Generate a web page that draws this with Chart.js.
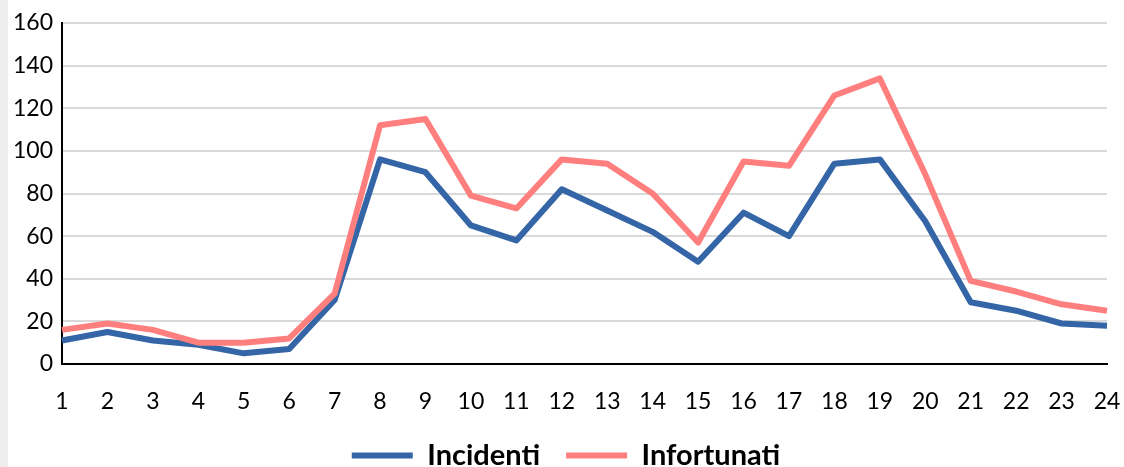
<!DOCTYPE html>
<html>
<head>
<meta charset="utf-8">
<script src="https://cdn.jsdelivr.net/npm/chart.js@4"></script>
<style>
  html, body { margin: 0; padding: 0; background: #eeeeee; }
  .container-grafico { position: absolute; left: 8px; top: 0; width: 1116px; height: 467px; background: #fff; }
</style>
</head>
<body>
<div class="container-grafico">
  <canvas id="grafico" width="1116" height="467"></canvas>
</div>
<script>
const ore = ['1','2','3','4','5','6','7','8','9','10','11','12','13','14','15','16','17','18','19','20','21','22','23','24'];
const incidenti = [11, 15, 11, 9, 5, 7, 30, 96, 90, 65, 58, 82, 72, 62, 48, 71, 60, 94, 96, 67, 29, 25, 19, 18];
const infortunati = [16, 19, 16, 10, 10, 12, 33, 112, 115, 79, 73, 96, 94, 80, 57, 95, 93, 126, 134, 89, 39, 34, 28, 25];
const nomiSerie = ['Incidenti', 'Infortunati'];

const font = 'Lato, "Open Sans", sans-serif';

const ctx = document.getElementById('grafico').getContext('2d');
new Chart(ctx, {
  type: 'line',
  data: {
    labels: ore,
    datasets: [
      {
        label: nomiSerie[0],
        data: incidenti,
        borderColor: '#3465A6',
        backgroundColor: '#3465A6',
        borderWidth: 6,
        order: 1
      },
      {
        label: nomiSerie[1],
        data: infortunati,
        borderColor: '#FF7F7F',
        backgroundColor: '#FF7F7F',
        borderWidth: 6,
        order: 0
      }
    ]
  },
  options: {
    responsive: false,
    animation: false,
    elements: {
      point: { radius: 0, hoverRadius: 0 },
      line: { tension: 0, borderJoinStyle: 'round', borderCapStyle: 'butt' }
    },
    layout: { padding: { top: 0, right: 0, left: 0, bottom: -13 } },
    scales: {
      x: {
        offset: false,
        grid: { display: false, drawTicks: false },
        border: { display: true, color: '#000', width: 2 },
        ticks: { color: '#000', font: { family: font, size: 23 }, padding: 24, maxRotation: 0, autoSkip: false },
        afterFit: (scale) => {
          scale.paddingRight = 17;
          scale.paddingLeft = 0;
          scale.height = 51;
        }
      },
      y: {
        min: 0,
        max: 160,
        grid: { color: '#D9D9D9', lineWidth: 2, drawTicks: false },
        border: { display: true, color: '#000', width: 2 },
        ticks: { stepSize: 20, color: '#000', font: { family: font, size: 23 }, padding: 9 },
        afterFit: (scale) => {
          scale.width = 54;
          scale.paddingTop = 23;
          scale.paddingBottom = 0;
        }
      }
    },
    plugins: {
      tooltip: { enabled: false },
      legend: {
        position: 'bottom',
        labels: {
          usePointStyle: true,
          pointStyle: 'line',
          pointStyleWidth: 61,
          color: '#000',
          font: { family: font, size: 29, weight: 'bold' },
          padding: 26,
          sort: (a, b) => a.datasetIndex - b.datasetIndex
        }
      }
    }
  }
});
</script>
</body>
</html>
